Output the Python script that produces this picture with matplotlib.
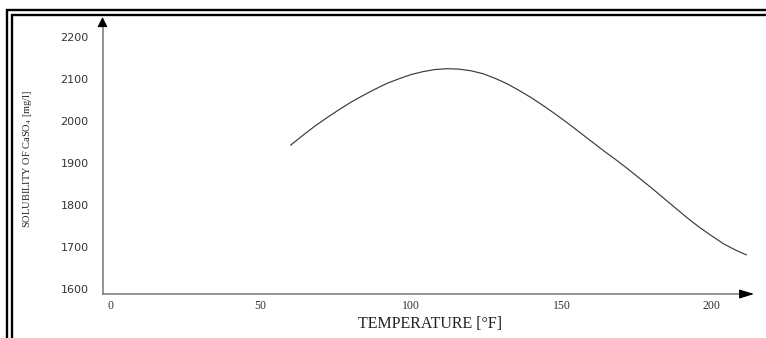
import matplotlib
matplotlib.use("Agg")
import matplotlib.pyplot as plt
from matplotlib.lines import Line2D

plt.rcParams["mathtext.fontset"] = "stix"

# Solubility of calcium sulphate in water versus temperature
temperature_f = [60, 64, 68, 72, 76, 80, 84, 88, 92, 96, 100, 104, 108,
                 112, 116, 120, 124, 128, 132, 136, 140, 144, 148, 152,
                 156, 160, 164, 168, 172, 176, 180, 184, 188, 192, 196,
                 200, 204, 208, 211.5]
solubility_mg_l = [1942, 1965, 1987, 2007, 2026, 2044, 2060, 2075, 2089,
                   2100, 2110, 2117, 2122, 2124, 2123, 2119, 2112, 2101,
                   2088, 2072, 2055, 2036, 2016, 1995, 1973, 1951, 1929,
                   1908, 1886, 1863, 1840, 1816, 1792, 1768, 1746, 1726,
                   1707, 1692, 1681]

x_ticks = [0, 50, 100, 150, 200]
y_ticks = [1600, 1700, 1800, 1900, 2000, 2100, 2200]

W, H = 766, 338
fig = plt.figure(figsize=(W / 100, H / 100), dpi=100)
fig.patch.set_facecolor("white")


def fx(px):
    return px / W


def fy(py):
    return 1 - py / H


# plotting area bounded by the two arrowed axes
left, right, top, bottom = 102.5, 754, 17, 294
ax = fig.add_axes([fx(left), fy(bottom), fx(right - left), (bottom - top) / H])
ax.set_xlim(-2.5, 214)
ax.set_ylim(1588, 2247)
for s in ax.spines.values():
    s.set_visible(False)

ax.plot(temperature_f, solubility_mg_l, color="#3a3a3a", lw=0.85,
        solid_capstyle="round", solid_joinstyle="round")

# axes drawn as grey lines with black arrow heads
axis_col = "#808080"
ax.plot([0, 0.985], [0, 0], transform=ax.transAxes, color=axis_col, lw=1.2,
        clip_on=False)
ax.plot([0, 0], [0, 0.975], transform=ax.transAxes, color=axis_col, lw=1.2,
        clip_on=False)
ax.annotate("", xy=(1.0, 0), xytext=(0.983, 0), xycoords="axes fraction",
            arrowprops=dict(arrowstyle="-|>,head_length=0.9,head_width=0.28",
                            color="black", shrinkA=0, shrinkB=0, lw=0.8))
ax.annotate("", xy=(0, 1.0), xytext=(0, 0.975), xycoords="axes fraction",
            arrowprops=dict(arrowstyle="-|>,head_length=0.6,head_width=0.3",
                            color="black", shrinkA=0, shrinkB=0, lw=0.8))

ax.set_xticks(x_ticks)
ax.set_xticklabels([str(v) for v in x_ticks], family="Liberation Serif",
                   fontsize=8.5, color="#333333")
ax.set_yticks(y_ticks)
ax.set_yticklabels([str(v) for v in y_ticks], family="DejaVu Sans",
                   fontsize=8, color="#333333")
ax.tick_params(axis="x", length=0, pad=4.5)
ax.tick_params(axis="y", length=0, pad=10)

fig.text(fx(430), fy(324), "TEMPERATURE [°F]", family="Liberation Serif",
         fontsize=11.5, color="#222222", ha="center", va="center")
fig.text(fx(27), fy(159), "SOLUBILITY OF CaSO$_4$ [mg/l]",
         family="Liberation Serif", fontsize=7.5, color="#222222",
         rotation=90, ha="center", va="center")

# double frame along the top and left edges
for (x0, y0, lw) in [(7, 9.5, 1.7), (11.5, 14.5, 1.7)]:
    fig.add_artist(Line2D([fx(x0), fx(x0), 1.0], [0.0, fy(y0), fy(y0)],
                          transform=fig.transFigure, color="black", lw=lw,
                          solid_joinstyle="miter"))

fig.savefig("out.png", dpi=100, facecolor="white")
